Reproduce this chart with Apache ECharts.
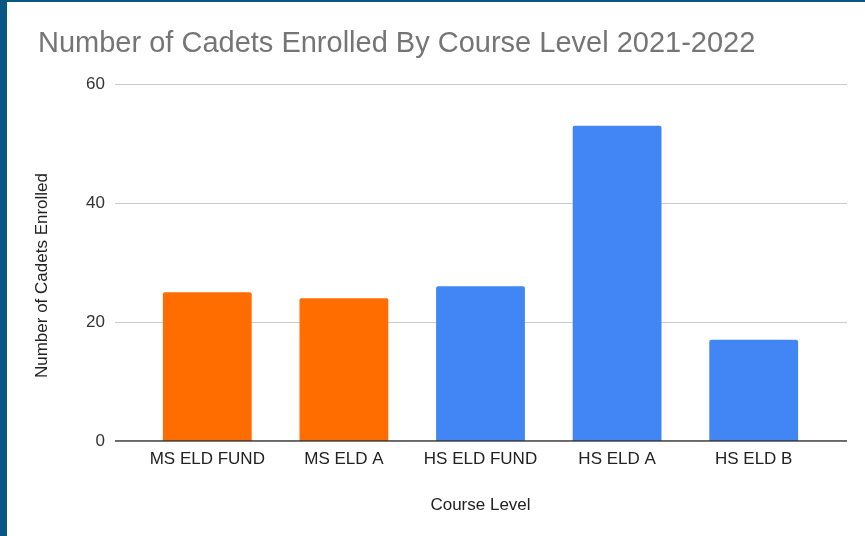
<!DOCTYPE html>
<html>
<head>
<meta charset="utf-8">
<script src="https://cdn.jsdelivr.net/npm/echarts@6/dist/echarts.min.js"></script>
<style>
  html, body { margin: 0; padding: 0; background: #fff; }
  #frame { position: absolute; left: 0; top: 0; width: 865px; height: 536px; box-sizing: border-box;
           border-left: 7px solid #0b5784; border-top: 2px solid #0b5784; }
  #chart { position: absolute; left: 0; top: 0; width: 865px; height: 536px; }
</style>
</head>
<body>
<div id="frame"></div>
<div id="chart"></div>
<script>
// data
const categories = ['MS ELD FUND', 'MS ELD A', 'HS ELD FUND', 'HS ELD A', 'HS ELD B'];
const enrolled = [25, 24, 26, 53, 17];
const barColors = ['#ff6d01', '#ff6d01', '#4285f4', '#4285f4', '#4285f4'];
const yTicks = [0, 20, 40, 60];

const font = 'Arial, "Liberation Sans", sans-serif';

let chart = echarts.init(document.getElementById('chart'));
chart.setOption({
    animation: false,
    title: {
        text: 'Number of Cadets Enrolled By Course Level 2021-2022',
        left: 33,
        top: 24,
        textStyle: { fontFamily: font, fontSize: 29, fontWeight: 'normal', color: '#757575' }
    },
    grid: [
        // gridlines span wider than the bars
        { left: 115, right: 18, top: 84, bottom: 95 },
        { left: 139, right: 43, top: 84, bottom: 95 }
    ],
    xAxis: [
        {
            gridIndex: 0, type: 'value', min: 0, max: 1,
            axisLine: { show: false }, axisTick: { show: false },
            axisLabel: { show: false }, splitLine: { show: false }
        },
        {
            gridIndex: 1, type: 'category', data: categories,
            axisLine: { show: false }, axisTick: { show: false },
            axisLabel: { interval: 0, fontFamily: font, fontSize: 17, color: '#222', margin: 10 },
            name: 'Course Level', nameLocation: 'middle', nameGap: 56,
            nameTextStyle: { fontFamily: font, fontSize: 17, color: '#222' }
        }
    ],
    yAxis: [
        {
            gridIndex: 0, type: 'value', min: yTicks[0], max: yTicks[yTicks.length - 1], interval: 20,
            axisLine: { show: true, onZero: false, lineStyle: { color: 'transparent' } },
            axisTick: { show: false },
            axisLabel: { fontFamily: font, fontSize: 17, color: '#333', margin: 10 },
            splitLine: { lineStyle: { color: '#cccccc', width: 1 } },
            name: 'Number of Cadets Enrolled', nameLocation: 'middle', nameGap: 64,
            nameTextStyle: { fontFamily: font, fontSize: 17, color: '#222', padding: [0, 26, 0, 0] }
        },
        {
            gridIndex: 1, type: 'value', min: yTicks[0], max: yTicks[yTicks.length - 1], interval: 20,
            axisLine: { show: false }, axisTick: { show: false },
            axisLabel: { show: false }, splitLine: { show: false }
        }
    ],
    series: [
        {
            type: 'bar',
            xAxisIndex: 1, yAxisIndex: 1,
            barCategoryGap: '35%',
            data: enrolled.map((v, i) => ({ value: v, itemStyle: { color: barColors[i] } })),
            itemStyle: { borderRadius: [2, 2, 0, 0] },
            z: 3
        },
        {
            // baseline at zero
            type: 'line',
            xAxisIndex: 0, yAxisIndex: 0,
            data: [[0, 0], [1, 0]],
            symbol: 'none',
            lineStyle: { color: '#333333', width: 1.5 },
            silent: true,
            z: 4
        }
    ]
});
</script>
</body>
</html>
